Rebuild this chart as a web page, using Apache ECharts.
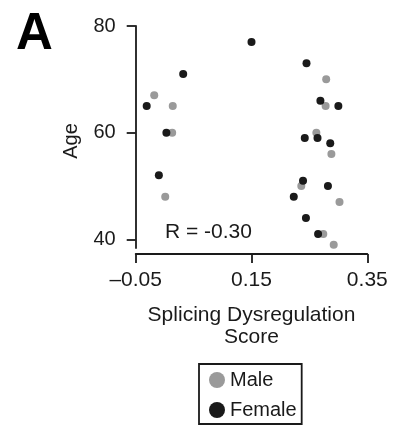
<!DOCTYPE html>
<html>
<head>
<meta charset="utf-8">
<script src="https://cdn.jsdelivr.net/npm/echarts@6/dist/echarts.min.js"></script>
<style>
  html, body { margin: 0; padding: 0; background: #fff; }
  #main { width: 393px; height: 427px; }
</style>
</head>
<body>
<div id="main"></div>
<script>
// splicing dysregulation score vs age, split by sex
const maleScore = [-0.018, 0.014, 0.013, 0.001, 0.279, 0.278, 0.262, 0.288, 0.236, 0.302, 0.274, 0.292];
const maleAge   = [67, 65, 60, 48, 70, 65, 60, 56, 50, 47, 41, 39];
const femaleScore = [0.032, -0.031, 0.003, -0.010, 0.150, 0.245, 0.269, 0.300, 0.242, 0.264, 0.286, 0.239, 0.282, 0.223, 0.244, 0.265];
const femaleAge   = [71, 65, 60, 52, 77, 73, 66, 65, 59, 59, 58, 51, 50, 48, 44, 41];
const xTicks = [-0.05, 0.15, 0.35];
const yTicks = [40, 60, 80];
const rText = 'R = -0.30';

const font = 'Liberation Sans, Arial, sans-serif';
const ink = '#1a1a1a';

const chart = echarts.init(document.getElementById('main'));

const pairs = (xs, ys) => xs.map((x, i) => [x, ys[i]]);

const option = {
  animation: false,
  grid: { left: 135.7, right: 25.7, top: 26, bottom: 179 },
  xAxis: {
    type: 'value',
    min: xTicks[0],
    max: xTicks[xTicks.length - 1],
    interval: 0.2,
    offset: 6,
    name: 'Splicing Dysregulation\nScore',
    nameLocation: 'middle',
    nameGap: 50,
    nameTextStyle: { fontFamily: font, fontSize: 21, color: ink, lineHeight: 22 },
    axisLine: { onZero: false, lineStyle: { color: ink, width: 1.8 } },
    axisTick: { length: 9, lineStyle: { color: ink, width: 1.8 } },
    axisLabel: {
      margin: 16,
      fontFamily: font,
      fontSize: 21,
      color: ink,
      formatter: v => v.toFixed(2).replace('-', '\u2013')
    },
    splitLine: { show: false }
  },
  yAxis: {
    type: 'value',
    min: 38.37,
    max: 80,
    name: 'Age',
    nameLocation: 'middle',
    nameGap: 54,
    nameRotate: 90,
    nameTextStyle: { fontFamily: font, fontSize: 20, color: ink, padding: [0, 8, 0, 0] },
    axisLine: { onZero: false, lineStyle: { color: ink, width: 1.8 } },
    axisTick: { length: 9, customValues: yTicks, lineStyle: { color: ink, width: 1.8 } },
    axisLabel: {
      margin: 20,
      fontFamily: font,
      fontSize: 20,
      color: ink,
      customValues: yTicks
    },
    splitLine: { show: false }
  },
  legend: {
    orient: 'vertical',
    left: 199,
    top: 364,
    padding: [6, 5, 4, 10],
    itemGap: 10,
    itemWidth: 16,
    itemHeight: 16,
    icon: 'circle',
    borderColor: ink,
    borderWidth: 1.8,
    textStyle: { fontFamily: font, fontSize: 20, color: ink },
    data: ['Male', 'Female']
  },
  graphic: [
    {
      type: 'text',
      left: 16,
      top: 9,
      style: { text: 'A', font: 'bold 51px ' + font, fill: '#000' }
    },
    {
      type: 'text',
      left: 165,
      top: 222,
      style: { text: rText, font: '21px ' + font, fill: ink }
    }
  ],
  series: [
    {
      name: 'Male',
      type: 'scatter',
      symbolSize: 8,
      itemStyle: { color: '#9a9a9a', opacity: 1 },
      data: pairs(maleScore, maleAge)
    },
    {
      name: 'Female',
      type: 'scatter',
      symbolSize: 8,
      itemStyle: { color: ink, opacity: 1 },
      data: pairs(femaleScore, femaleAge)
    }
  ]
};

chart.setOption(option);
</script>
</body>
</html>
